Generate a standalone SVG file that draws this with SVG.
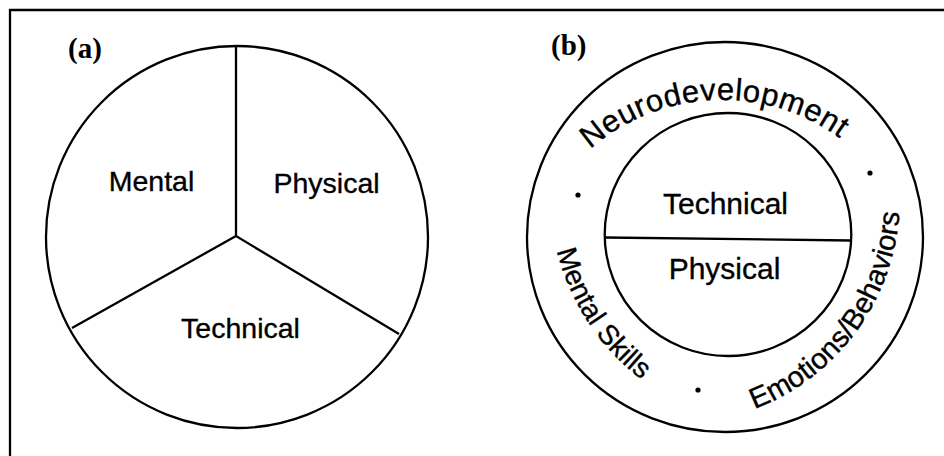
<svg xmlns="http://www.w3.org/2000/svg" width="944" height="456" viewBox="0 0 944 456">
  <style>
    .ln { fill: none; stroke: #000; stroke-width: 2.3; }
    .lbl { font-family: "Liberation Sans", Arial, sans-serif; fill: #000; stroke: #000; stroke-width: 0.35; text-anchor: middle; }
    .tag { font-family: "Liberation Serif", "Times New Roman", serif; font-weight: bold; font-size: 29px; fill: #000; }
    .dot { fill: #000; }
  </style>
  <defs>
    <!-- arcs that carry the ring captions -->
    <path id="arcTop" d="M 547.9 200.5 A 201 201 0 0 1 896.1 200.5"/>
    <path id="arcLeft" d="M 550.9 215.2 A 232 232 0 0 0 684.0 405.3"/>
    <path id="arcRight" d="M 674 424 A 226 226 0 0 0 892.3 139.5"/>
  </defs>
  <rect width="944" height="456" fill="#fff"/>

  <!-- frame edges -->
  <g id="frame">
    <path class="ln" d="M 10 456 L 10 10 L 944 10"/>
  </g>

  <!-- panel (a): three-sector pie -->
  <g id="panel-a">
    <text class="tag" x="68" y="58">(a)</text>
    <g id="pie">
      <circle class="ln" cx="237" cy="237" r="191"/>
    </g>
    <g id="connectors">
      <path class="ln" d="M 236 46 L 236 236 M 236 236 L 72 328 M 236 236 L 399 334"/>
    </g>
    <g id="sector-mental"><text class="lbl" x="151.5" y="191" font-size="28.5">Mental</text></g>
    <g id="sector-physical"><text class="lbl" x="326.5" y="193" font-size="28.5">Physical</text></g>
    <g id="sector-technical"><text class="lbl" x="240.5" y="338" font-size="28.5">Technical</text></g>
  </g>

  <!-- panel (b): core split in two, surrounded by a ring -->
  <g id="panel-b">
    <text class="tag" x="551" y="55">(b)</text>
    <g id="outer-ring">
      <ellipse class="ln" cx="725" cy="237" rx="198" ry="195"/>
      <text class="lbl" font-size="31" letter-spacing="0.5"><textPath href="#arcTop" startOffset="201.7">Neurodevelopment</textPath></text>
      <text class="lbl" font-size="28"><textPath href="#arcLeft" startOffset="114.6">Mental Skills</textPath></text>
      <text class="lbl" font-size="29"><textPath href="#arcRight" startOffset="211.4">Emotions/Behaviors</textPath></text>
      <circle class="dot" cx="578" cy="195" r="2.6"/>
      <circle class="dot" cx="870" cy="173" r="2.6"/>
      <circle class="dot" cx="698" cy="390" r="2.6"/>
    </g>
    <g id="core">
      <ellipse class="ln" cx="728" cy="234.5" rx="123.3" ry="121.5"/>
      <path class="ln" d="M 605 237.5 L 851 240.5"/>
    </g>
    <g id="core-technical"><text class="lbl" x="725.5" y="214" font-size="30">Technical</text></g>
    <g id="core-physical"><text class="lbl" x="724.5" y="279" font-size="30">Physical</text></g>
  </g>
</svg>
